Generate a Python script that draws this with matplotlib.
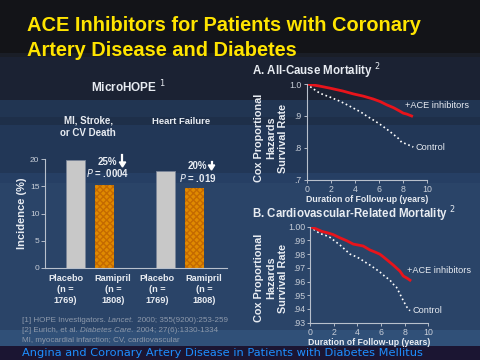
import numpy as np
import matplotlib
matplotlib.use("Agg")
from matplotlib import pyplot as plt
from matplotlib.colors import to_rgb

# ---- data ----
bar_labels = ["Placebo\n(n =\n1769)", "Ramipril\n(n =\n1808)", "Placebo\n(n =\n1769)", "Ramipril\n(n =\n1808)"]
bar_values = [19.8, 15.3, 17.8, 14.7]
group_titles = ["MI, Stroke,\nor CV Death", "Heart Failure"]
reductions = ["25%", "20%"]
p_values = [".0004", ".019"]

# all-cause mortality (panel A)
a_ace_t = [0, 1.0, 1.93, 3.0, 3.87, 4.7, 5.52, 6.1, 6.63, 7.2, 7.73, 8.0, 8.3, 8.7]
a_ace_s = [1.0, 0.994, 0.987, 0.978, 0.969, 0.962, 0.953, 0.945, 0.935, 0.926, 0.915, 0.909, 0.906, 0.900]
a_ctl_t = [0, 0.5, 1.1, 2.0, 2.76, 3.4, 4.0, 4.5, 4.97, 5.5, 6.08, 6.6, 7.18, 7.6, 7.87, 8.3, 8.84]
a_ctl_s = [1.0, 0.986, 0.971, 0.958, 0.946, 0.934, 0.922, 0.912, 0.900, 0.888, 0.874, 0.860, 0.843, 0.830, 0.818, 0.812, 0.803]

# cardiovascular-related mortality (panel B)
b_ace_t = [0, 0.5, 0.99, 1.5, 1.97, 2.5, 3.1, 3.66, 4.1, 4.5, 5.07, 5.5, 5.9, 6.2, 6.48, 7.04, 7.6, 7.89, 8.2, 8.45]
b_ace_s = [1.0, 0.9985, 0.9966, 0.9955, 0.9942, 0.992, 0.9898, 0.9873, 0.9866, 0.9859, 0.983, 0.9815, 0.980, 0.978, 0.976, 0.972, 0.9676, 0.964, 0.9625, 0.961]
b_ctl_t = [0, 0.4, 0.85, 1.3, 1.69, 2.1, 2.54, 3.0, 3.38, 3.8, 4.2, 4.6, 5.07, 5.5, 5.9, 6.3, 6.76, 7.05, 7.32, 7.6, 7.89, 8.17, 8.45]
b_ctl_s = [1.0, 0.9975, 0.995, 0.9937, 0.9922, 0.9895, 0.9866, 0.983, 0.980, 0.9785, 0.9768, 0.9745, 0.972, 0.9695, 0.967, 0.964, 0.961, 0.958, 0.9557, 0.951, 0.946, 0.9416, 0.9387]

W, H = 480, 360
fig = plt.figure(figsize=(4.8, 3.6), dpi=100)
plt.rcParams["font.family"] = ["Liberation Sans", "DejaVu Sans"]

def fx(x):
    return x / W

def fy(y):
    return 1 - y / H

### background bands (top -> bottom, pixel rows)
bands = [(0, "#131418"), (53, "#1a1e27"), (57, "#1b2233"), (100, "#213552"),
         (117, "#1e2f49"), (125, "#223757"), (173, "#263f64"), (183, "#2a4468"),
         (330, "#305078"), (346, "#1b1532")]
rows = np.zeros((H, 1, 3))
for i, (start, col) in enumerate(bands):
    end = bands[i + 1][0] if i + 1 < len(bands) else H
    rows[start:end, 0, :] = to_rgb(col)
bg = fig.add_axes([0, 0, 1, 1])
bg.imshow(rows, aspect="auto", extent=[0, 1, 0, 1])
bg.axis("off")

light = "#e8ecf2"
tick_col = "#c8ced8"

### title
fig.text(fx(27), fy(25.5), "ACE Inhibitors for Patients with Coronary", color="#ffe400",
         fontsize=14.4, fontweight="bold", va="center", ha="left")
fig.text(fx(27), fy(50), "Artery Disease and Diabetes", color="#ffe400",
         fontsize=14.4, fontweight="bold", va="center", ha="left")

### bar chart
ax = fig.add_axes([fx(45), fy(268), fx(227 - 45), (268 - 159) / H])
ax.patch.set_alpha(0)
pos = [0, 1, 3.1, 4.1]
label_pos = [-0.345, 1.29, 2.81, 4.43]
colors = ["#c8c8c8", "#e08a00", "#c8c8c8", "#e08a00"]
for i in range(4):
    if i % 2 == 0:
        ax.bar(pos[i], bar_values[i], width=0.66, color=colors[i], edgecolor="#7a8599", linewidth=0.6)
    else:
        ax.bar(pos[i], bar_values[i], width=0.66, color=colors[i], edgecolor="#c46a00",
               hatch="xxxxx", linewidth=0)
ax.set_xlim(-1.05, 5.22)
ax.set_ylim(0, 20)
ax.set_yticks([0, 5, 10, 15, 20])
ax.set_xticks(label_pos)
ax.set_xticklabels(bar_labels, fontsize=6.6, fontweight="bold", color=light, linespacing=1.3)
ax.tick_params(axis="x", length=0, pad=4)
ax.tick_params(axis="y", labelsize=6, colors=tick_col, length=3, width=0.6, pad=1)
for s in ["top", "right"]:
    ax.spines[s].set_visible(False)
for s in ["left", "bottom"]:
    ax.spines[s].set_color("#b8c0cc")
    ax.spines[s].set_linewidth(0.8)
ax.set_ylabel("Incidence (%)", fontsize=8, fontweight="bold", color=light)
ax.yaxis.set_label_coords(-(45 - 27) / (227 - 45), 0.5)

fig.text(fx(128), fy(87), "MicroHOPE $^1$", color=light, fontsize=8.5, fontweight="bold",
         ha="center", va="center")
fig.text(fx(88), fy(127), group_titles[0], color=light, fontsize=7, fontweight="bold",
         ha="center", va="center", linespacing=1.3)
fig.text(fx(181), fy(121), group_titles[1], color=light, fontsize=6.8, fontweight="bold",
         ha="center", va="center")
for i, (x1, y1, x2, y2, xa, ya0, ya1) in enumerate([(107.5, 162, 107.5, 173, 122.5, 155, 167),
                                                     (197.5, 166, 198, 178, 211.5, 162.5, 170)]):
    fig.text(fx(x1), fy(y1), reductions[i], color=light, fontsize=7,
             fontweight="bold", ha="center", va="center")
    fig.text(fx(x2), fy(y2), "$\\it{P}$ = " + p_values[i], color=light, fontsize=7,
             fontweight="bold", ha="center", va="center")
    fig.add_artist(plt.Line2D([fx(xa), fx(xa)], [fy(ya0), fy(ya1 - 4)], color="white", lw=1.6))
    fig.add_artist(plt.Polygon([[fx(xa - 3.2), fy(ya1 - 5)], [fx(xa + 3.2), fy(ya1 - 5)],
                                [fx(xa), fy(ya1)]], color="white"))

### survival panels
def survival(rect, ylim, yticks, ylabels, ace_t, ace_s, ctl_t, ctl_s, lab_ace, lab_ctl):
    a = fig.add_axes(rect)
    a.patch.set_alpha(0)
    a.plot(ctl_t, ctl_s, color="white", linestyle=":", linewidth=1.2)
    a.plot(ace_t, ace_s, color="#e8141b", linewidth=2)
    a.set_xlim(0, 10)
    a.set_ylim(*ylim)
    a.set_xticks([0, 2, 4, 6, 8, 10])
    a.set_yticks(yticks)
    a.set_yticklabels(ylabels)
    a.tick_params(labelsize=6.3, colors=tick_col, length=2.5, width=0.6, pad=1)
    for s in ["top", "right"]:
        a.spines[s].set_visible(False)
    for s in ["left", "bottom"]:
        a.spines[s].set_color("#b8c0cc")
        a.spines[s].set_linewidth(0.8)
    a.text(lab_ace[0], lab_ace[1], "+ACE inhibitors", color=light, fontsize=6.6, va="center")
    a.text(lab_ctl[0], lab_ctl[1], "Control", color=light, fontsize=6.6, va="center")
    a.set_xlabel("Duration of Follow-up (years)", fontsize=6.3, fontweight="bold",
                 color=light, labelpad=1)
    return a

survival([fx(306.7), fy(180), fx(427.3 - 306.7), 96 / H], (0.7, 1.0),
         [0.7, 0.8, 0.9, 1.0], [".7", ".8", ".9", "1.0"],
         a_ace_t, a_ace_s, a_ctl_t, a_ctl_s, (8.15, 0.932), (9.0, 0.80))
survival([fx(310), fy(322.7), fx(428.3 - 310), 96 / H], (0.93, 1.0),
         [0.93, 0.94, 0.95, 0.96, 0.97, 0.98, 0.99, 1.0],
         [".93", ".94", ".95", ".96", ".97", ".98", ".99", "1.00"],
         b_ace_t, b_ace_s, b_ctl_t, b_ctl_s, (8.2, 0.9684), (8.7, 0.939))

fig.text(fx(252), fy(71), "A. All-Cause Mortality $^2$", color=light, fontsize=8.3,
         fontweight="bold", va="center")
fig.text(fx(252), fy(214.5), "B. Cardiovascular-Related Mortality $^2$", color=light, fontsize=8.3,
         fontweight="bold", va="center")
for yc in [138, 278]:
    fig.text(fx(271), fy(yc), "Cox Proportional\nHazards\nSurvival Rate", color=light,
             fontsize=7.8, fontweight="bold", rotation=90, ha="center", va="center",
             linespacing=1.2)

### footnotes
foot_col = "#8d99ab"
fig.canvas.draw()
renderer = fig.canvas.get_renderer()

def line_parts(y, parts):
    x = fx(22)
    for txt, style in parts:
        t = fig.text(x, fy(y), txt, color=foot_col, fontsize=5.8, style=style, va="center")
        bb = t.get_window_extent(renderer)
        x += bb.width / W

line_parts(320.7, [("[1] HOPE Investigators. ", "normal"), ("Lancet.", "italic"),
                   (" 2000; 355(9200):253-259", "normal")])
line_parts(331, [("[2] Eurich, et al. ", "normal"), ("Diabetes Care.", "italic"),
                 (" 2004; 27(6):1330-1334", "normal")])
line_parts(341, [("MI, myocardial infarction; CV, cardiovascular", "normal")])

fig.text(fx(22), fy(353), "Angina and Coronary Artery Disease in Patients with Diabetes Mellitus",
         color="#1e8fff", fontsize=8.2, family="DejaVu Sans", va="center")

fig.savefig("out.png", dpi=100)
